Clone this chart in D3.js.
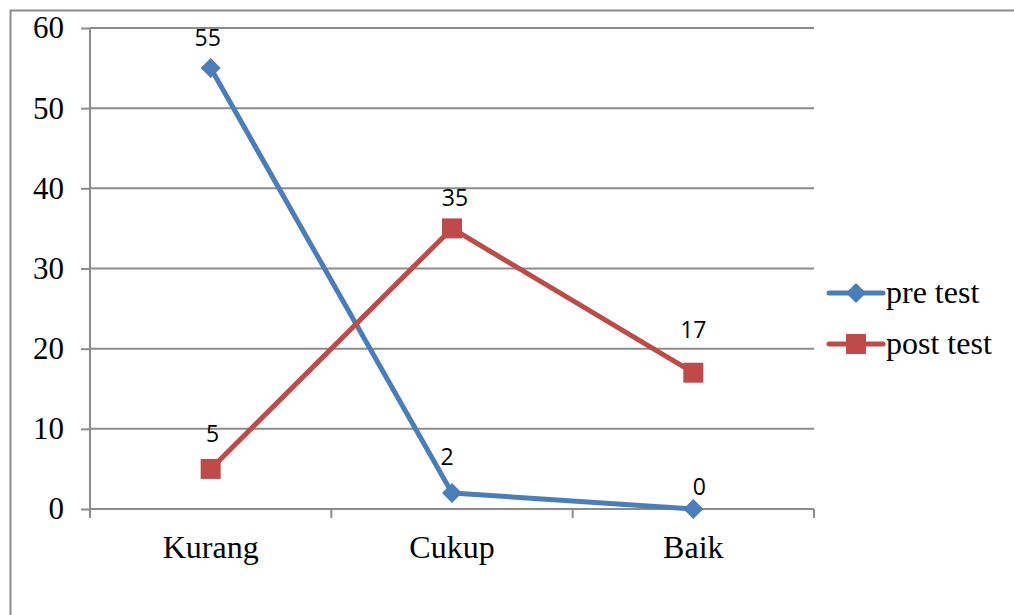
<!DOCTYPE html>
<html>
<head>
<meta charset="utf-8" />
<title>pre test vs post test</title>
<script src="https://d3js.org/d3.v7.min.js"></script>
<style>
  body { margin: 0; background: #fff; }
  .tick text { font-family: "Liberation Serif", "Times New Roman", serif; }
</style>
</head>
<body>
<div id="chart"></div>
<script>
// data
var categories = ["Kurang", "Cukup", "Baik"];
var preTest = [55, 2, 0];
var postTest = [5, 35, 17];
var yTicks = [0, 10, 20, 30, 40, 50, 60];
var seriesNames = ["pre test", "post test"];
var seriesColors = ["#4a7ebb", "#be4b48"];

// labels were nudged by hand in the original, keep the same nudges [dx, dy]
var preNudge = [[-3, -22], [-5, -28], [6, -14]];
var postNudge = [[2, -27], [3, -22], [0, -35]];

var width = 1014, height = 615;
var margin = { left: 90, right: 200, top: 28, bottom: 106 };

var svg = d3.select("#chart").append("svg")
  .attr("width", width)
  .attr("height", height);

// outer frame (runs off the right and bottom edges)
svg.append("rect")
  .attr("x", 10.5).attr("y", 10.5)
  .attr("width", 1100).attr("height", 700)
  .attr("fill", "none")
  .attr("stroke", "#8c8c8c")
  .attr("stroke-width", 2);

var x = d3.scaleBand()
  .domain(categories)
  .range([margin.left, width - margin.right])
  .paddingInner(0).paddingOuter(0);

var y = d3.scaleLinear()
  .domain([0, 60])
  .range([height - margin.bottom, margin.top]);

// gridlines
svg.append("g")
  .selectAll("line")
  .data(yTicks.filter(d => d > 0))
  .enter().append("line")
  .attr("x1", margin.left).attr("x2", width - margin.right)
  .attr("y1", d => y(d)).attr("y2", d => y(d))
  .attr("stroke", "#8c8c8c")
  .attr("stroke-width", 2);

// y axis
var yAxis = svg.append("g")
  .attr("transform", "translate(" + margin.left + ",0)")
  .call(d3.axisLeft(y).tickValues(yTicks).tickSize(9).tickPadding(17));
yAxis.selectAll("line, path").attr("stroke", "#8c8c8c").attr("stroke-width", 2);
yAxis.select(".domain").attr("d", "M0," + y(0) + "V" + y(60));
yAxis.selectAll("text").attr("font-size", 31).attr("fill", "#000");

// x axis: ticks on band edges
var xAxis = svg.append("g")
  .attr("transform", "translate(0," + y(0) + ")");
xAxis.append("line")
  .attr("x1", margin.left).attr("x2", width - margin.right)
  .attr("stroke", "#8c8c8c").attr("stroke-width", 2);
var edges = categories.map(c => x(c)).concat([x(categories[categories.length - 1]) + x.bandwidth()]);
xAxis.selectAll(".edge").data(edges).enter().append("line")
  .attr("x1", d => d).attr("x2", d => d)
  .attr("y1", 0).attr("y2", 9)
  .attr("stroke", "#8c8c8c").attr("stroke-width", 2);
xAxis.selectAll(".cat").data(categories).enter().append("text")
  .attr("x", d => x(d) + x.bandwidth() / 2)
  .attr("y", 49)
  .attr("text-anchor", "middle")
  .attr("font-family", "Liberation Serif, Times New Roman, serif")
  .attr("font-size", 32)
  .text(d => d);

var cx = d => x(d) + x.bandwidth() / 2;
var line = d3.line().x(d => cx(d.c)).y(d => y(d.v));

var allSeries = [preTest, postTest].map((vals, i) => ({
  name: seriesNames[i],
  color: seriesColors[i],
  nudge: i === 0 ? preNudge : postNudge,
  points: vals.map((v, j) => ({ c: categories[j], v: v, j: j }))
}));

allSeries.forEach(function(s, i) {
  svg.append("path")
    .datum(s.points)
    .attr("d", line)
    .attr("fill", "none")
    .attr("stroke", s.color)
    .attr("stroke-width", 5)
    .attr("stroke-linejoin", "round")
    .attr("stroke-linecap", "round");

  var g = svg.append("g");
  if (i === 0) {
    g.selectAll("path.m").data(s.points).enter().append("path")
      .attr("d", d3.symbol().type(d3.symbolSquare).size(200))
      .attr("transform", d => "translate(" + cx(d.c) + "," + y(d.v) + ") rotate(45)")
      .attr("fill", s.color);
  } else {
    g.selectAll("rect").data(s.points).enter().append("rect")
      .attr("x", d => cx(d.c) - 10).attr("y", d => y(d.v) - 10)
      .attr("width", 20).attr("height", 20)
      .attr("fill", s.color);
  }

  // data labels
  svg.append("g").selectAll("text").data(s.points).enter().append("text")
    .attr("x", d => cx(d.c) + s.nudge[d.j][0])
    .attr("y", d => y(d.v) + s.nudge[d.j][1])
    .attr("text-anchor", "middle")
    .attr("font-family", "'Open Sans', sans-serif")
    .attr("font-size", 23)
    .text(d => d.v);
});

// legend
var legend = svg.append("g").attr("transform", "translate(829,293)");
allSeries.forEach(function(s, i) {
  var row = legend.append("g").attr("transform", "translate(0," + (i * 51) + ")");
  row.append("line")
    .attr("x1", 0).attr("x2", 54)
    .attr("stroke", s.color).attr("stroke-width", 5)
    .attr("stroke-linecap", "round");
  if (i === 0) {
    row.append("path")
      .attr("d", d3.symbol().type(d3.symbolSquare).size(200))
      .attr("transform", "translate(27,0) rotate(45)")
      .attr("fill", s.color);
  } else {
    row.append("rect")
      .attr("x", 17).attr("y", -10).attr("width", 20).attr("height", 20)
      .attr("fill", s.color);
  }
  row.append("text")
    .attr("x", 57).attr("y", 10)
    .attr("font-family", "Liberation Serif, Times New Roman, serif")
    .attr("font-size", 32)
    .text(s.name);
});
</script>
</body>
</html>
